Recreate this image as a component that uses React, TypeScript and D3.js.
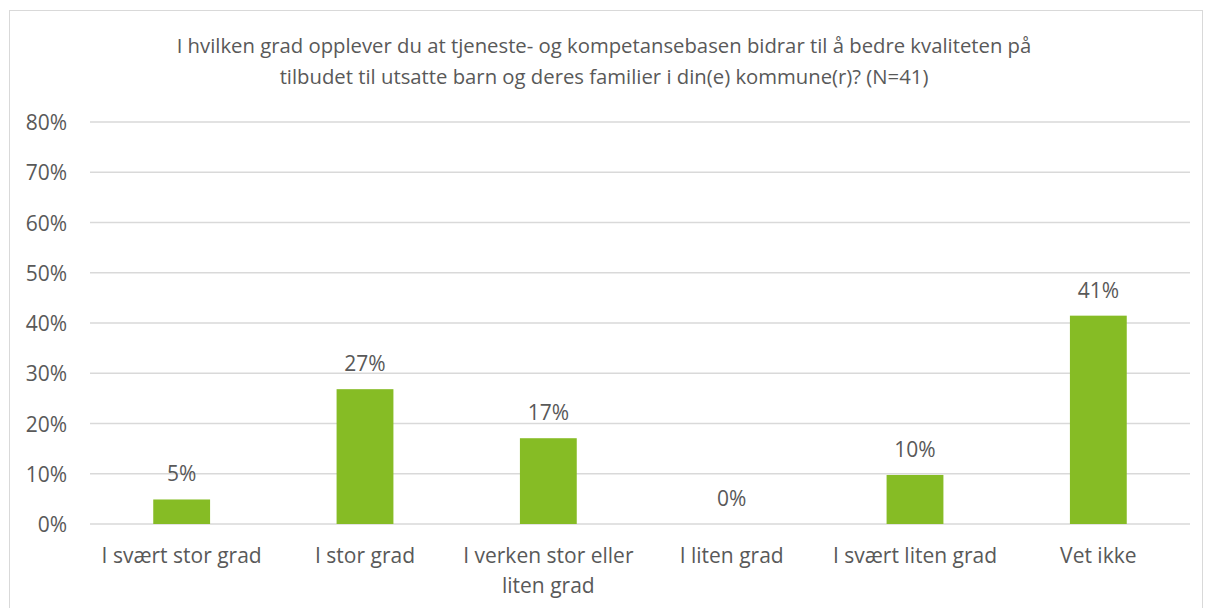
import React, { useEffect, useRef } from "react";
import * as d3 from "d3";

// Answers from 41 respondents, shown as shares
const categories = [
  ["I svært stor grad"],
  ["I stor grad"],
  ["I verken stor eller", "liten grad"],
  ["I liten grad"],
  ["I svært liten grad"],
  ["Vet ikke"],
];
const values = [0.0488, 0.2683, 0.1707, 0, 0.0976, 0.4146];
const valueLabels = ["5%", "27%", "17%", "0%", "10%", "41%"];
const yTicks = [0, 0.1, 0.2, 0.3, 0.4, 0.5, 0.6, 0.7, 0.8];
const titleLines = [
  "I hvilken grad opplever du at tjeneste- og kompetansebasen bidrar til å bedre kvaliteten på",
  "tilbudet til utsatte barn og deres familier i din(e) kommune(r)? (N=41)",
];

const W = 1208;
const H = 608;
const FONT = "'Open Sans', sans-serif";
const TEXT = "#595959";
const SIZE = "21px";

const App: React.FC = () => {
  const svgRef = useRef<SVGSVGElement | null>(null);

  useEffect(() => {
    if (!svgRef.current) return;
    const svg = d3.select(svgRef.current);
    svg.selectAll("*").remove();

    const left = 90, right = 1190, top = 122, bottom = 524;

    const x = d3.scaleBand<number>()
      .domain(d3.range(values.length))
      .range([left, right])
      .paddingInner(0.69)
      .paddingOuter(0.345);
    const y = d3.scaleLinear().domain([0, 0.8]).range([bottom, top]);

    // outer frame
    svg.append("rect")
      .attr("x", 9.5).attr("y", 10.5)
      .attr("width", 1193).attr("height", 640)
      .attr("fill", "white").attr("stroke", "#D9D9D9");

    // title
    svg.append("g").selectAll("text")
      .data(titleLines)
      .enter().append("text")
      .attr("x", 604)
      .attr("y", (d, i) => 53 + i * 31)
      .attr("text-anchor", "middle")
      .style("font-family", FONT)
      .style("font-size", "20.3px")
      .attr("fill", TEXT)
      .text(d => d);

    // gridlines + y labels
    const yg = svg.append("g");
    yg.selectAll("line")
      .data(yTicks)
      .enter().append("line")
      .attr("x1", left).attr("x2", right)
      .attr("y1", d => y(d)).attr("y2", d => y(d))
      .attr("stroke", "#D9D9D9").attr("stroke-width", 1.3);
    yg.selectAll("text")
      .data(yTicks)
      .enter().append("text")
      .attr("x", 67)
      .attr("y", d => y(d) + 8)
      .attr("text-anchor", "end")
      .style("font-family", FONT)
      .style("font-size", SIZE)
      .attr("fill", TEXT)
      .text(d => d3.format(".0%")(d));

    // bars
    svg.append("g").selectAll("rect")
      .data(values)
      .enter().append("rect")
      .attr("x", (d, i) => x(i) as number)
      .attr("y", d => y(d))
      .attr("width", x.bandwidth())
      .attr("height", d => bottom - y(d))
      .attr("fill", "#86BC25");

    // value labels
    svg.append("g").selectAll("text")
      .data(values)
      .enter().append("text")
      .attr("x", (d, i) => (x(i) as number) + x.bandwidth() / 2)
      .attr("y", d => y(d) - 18)
      .attr("text-anchor", "middle")
      .style("font-family", FONT)
      .style("font-size", SIZE)
      .attr("fill", TEXT)
      .text((d, i) => valueLabels[i]);

    // category labels
    const cg = svg.append("g").selectAll("text")
      .data(categories)
      .enter().append("text")
      .attr("text-anchor", "middle")
      .style("font-family", FONT)
      .style("font-size", SIZE)
      .attr("fill", TEXT);
    cg.selectAll("tspan")
      .data((d, i) => d.map(line => ({ line, i })))
      .enter().append("tspan")
      .attr("x", d => (x(d.i) as number) + x.bandwidth() / 2)
      .attr("y", (d, j) => 563 + j * 30)
      .text(d => d.line);
  }, []);

  return (
    <svg
      ref={svgRef}
      width={W}
      height={H}
      style={{ position: "absolute", left: 0, top: 0, display: "block" }}
    />
  );
};

export default App;
